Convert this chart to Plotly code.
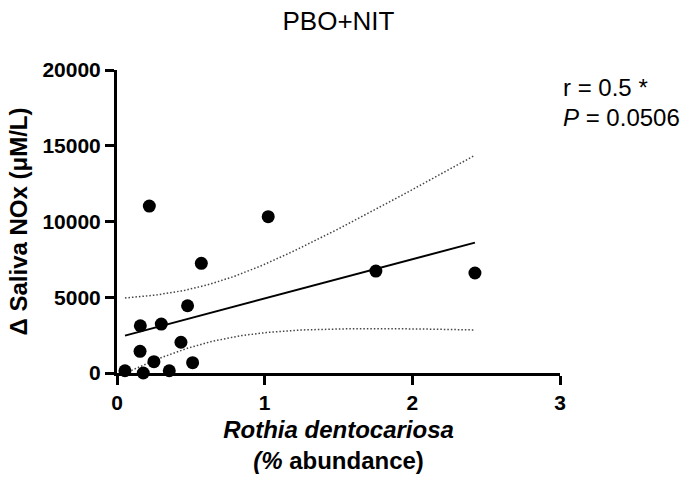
import numpy as np
import plotly.graph_objects as go

# Data
abundance = [0.054, 0.178, 0.219, 0.158, 0.300, 0.156, 0.250, 0.354, 0.433, 0.478, 0.512, 0.571, 1.024, 1.753, 2.424]
nox = [150, 0, 11020, 3120, 3230, 1430, 750, 150, 2030, 4440, 680, 7240, 10320, 6730, 6600]
x_ticks = [0, 1, 2, 3]
y_ticks = [0, 5000, 10000, 15000, 20000]
y_ticklabels = ["0", "5000", "10000", "15000", "20000"]
title = "PBO+NIT"
stats_r = "r = 0.5 *"
stats_p = "<i>P</i> = 0.0506"

x = np.array(abundance)
y = np.array(nox)
n = len(x)
slope, intercept = np.polyfit(x, y, 1)
xs = np.linspace(x.min(), x.max(), 100)
yfit = intercept + slope * xs
resid = y - (intercept + slope * x)
s = np.sqrt(np.sum(resid**2) / (n - 2))
t = 2.160  # t(0.975, df=13)
se = s * np.sqrt(1 / n + (xs - x.mean())**2 / np.sum((x - x.mean())**2))
upper = yfit + t * se
lower = yfit - t * se

font = "Liberation Sans, Arial, sans-serif"
fig = go.Figure()
band = dict(color="#444", width=1.5, dash="1.5px,2px")
fig.add_trace(go.Scatter(x=xs, y=upper, mode="lines", line=band, hoverinfo="skip"))
fig.add_trace(go.Scatter(x=xs, y=lower, mode="lines", line=band, hoverinfo="skip"))
fig.add_trace(go.Scatter(x=xs, y=yfit, mode="lines", line=dict(color="black", width=2)))
fig.add_trace(go.Scatter(x=abundance, y=nox, mode="markers", marker=dict(color="black", size=13), cliponaxis=False))

fig.update_layout(
    width=683, height=489,
    margin=dict(l=117, r=123, t=70, b=116),
    paper_bgcolor="white", plot_bgcolor="white",
    showlegend=False,
    font=dict(family=font, color="black"),
    title=dict(text=title, x=(117 + 560) / 2 / 683, xanchor="center", y=1 - 21 / 489, yanchor="middle",
               font=dict(size=26, family=font)),
    xaxis=dict(range=[0, 3], tickvals=x_ticks, showgrid=False, zeroline=False,
               showline=True, linecolor="black", linewidth=3,
               ticks="outside", ticklen=9, tickwidth=3, tickcolor="black",
               tickfont=dict(size=21, family=font, weight="bold"),
               title=dict(text="<b><i>Rothia dentocariosa</i></b><br><b><i>(%</i> abundance)</b>",
                          font=dict(size=24, family=font), standoff=8)),
    yaxis=dict(range=[0, 20000], tickvals=y_ticks, ticktext=y_ticklabels, showgrid=False, zeroline=False,
               showline=True, linecolor="black", linewidth=3,
               ticks="outside", ticklen=9, tickwidth=3, tickcolor="black",
               tickfont=dict(size=21, family=font, weight="bold"),
               title=dict(text="<b>Δ Saliva NOx (μM/L)</b>", font=dict(size=24, family=font), standoff=8)),
)
fig.add_annotation(text=stats_r, xref="paper", yref="paper", x=1.003, y=1 - 17 / 303, xanchor="left",
                   yanchor="middle", showarrow=False, font=dict(size=24, family=font))
fig.add_annotation(text=stats_p, xref="paper", yref="paper", x=1.003, y=1 - 47 / 303, xanchor="left",
                   yanchor="middle", showarrow=False, font=dict(size=24, family=font))
fig.write_html("out.html")
